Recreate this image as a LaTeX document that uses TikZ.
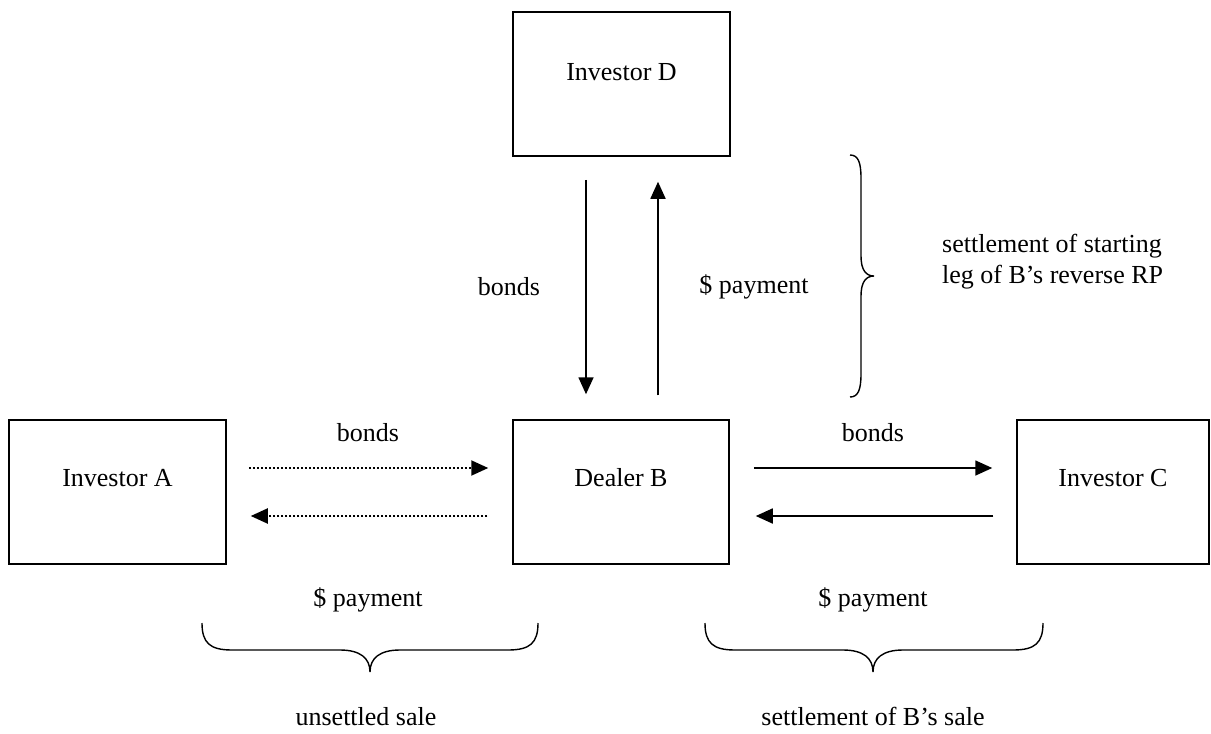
\documentclass[tikz,border=0pt]{standalone}
\usepackage{fontspec}
\setmainfont{Liberation Serif}
\usetikzlibrary{arrows.meta}
\begin{document}
\begin{tikzpicture}[x=1pt,y=-1pt,
  every node/.style={font=\fontsize{26}{31}\selectfont, inner sep=0pt},
  box/.style={draw, line width=1.5pt, minimum height=144pt, inner sep=0pt},
  arr/.style={line width=1.7pt, -{Triangle[length=17pt,width=15pt]}},
  dotarr/.style={arr, line width=2pt, dash pattern=on 2pt off 2pt},
  brace/.style={line width=1.4pt}]
\useasboundingbox (0,0) rectangle (1211,734);
% boxes
\node[box, minimum width=217pt] (A) at (117.5,492) {};
\node[box, minimum width=216pt] (B) at (621,492) {};
\node[box, minimum width=192pt] (C) at (1113,492) {};
\node[box, minimum width=217pt] (D) at (621.5,84) {};
\node (At) at ([yshift=14pt]A.center) {Investor A};
\node (Bt) at ([yshift=14pt]B.center) {Dealer B};
\node (Ct) at ([yshift=14pt]C.center) {Investor C};
\node (Dt) at ([yshift=12pt]D.center) {Investor D};
% horizontal arrows
\draw[dotarr] ([shift={(22pt,24pt)}]A.east) -- ([shift={(-24pt,24pt)}]B.west);
\draw[dotarr] ([shift={(-25pt,-24pt)}]B.west) -- ([shift={(24pt,-24pt)}]A.east);
\draw[arr] ([shift={(24pt,24pt)}]B.east) -- ([shift={(-24pt,24pt)}]C.west);
\draw[arr] ([shift={(-23pt,-24pt)}]C.west) -- ([shift={(26pt,-24pt)}]B.east);
% vertical arrows
\draw[arr] ([shift={(-35.5pt,-23pt)}]D.south) -- ([shift={(-35pt,25pt)}]B.north);
\draw[arr] ([shift={(37pt,24pt)}]B.north) -- ([shift={(36.5pt,-25pt)}]D.south);
% labels
\node (l1) at (368,433) {bonds};
\node (l2) at (368,600) {\$ payment};
\node (l3) at (873,433) {bonds};
\node (l4) at (873,600) {\$ payment};
\node (l5) at (509,287) {bonds};
\node (l6) at (754,287) {\$ payment};
\node[anchor=west, align=left] (l7) at (942,262) {settlement of starting\\leg of B’s reverse RP};
\node[anchor=base] (l8) at (366,725) {unsettled sale};
\node[anchor=base] (l9) at (873,725) {settlement of B’s sale};
% braces
\draw[brace] (202,623) .. controls (202,643) and (210,650) .. (232,650) -- (340,650)
  .. controls (360,650) and (370,658) .. (370,672)
  .. controls (370,658) and (380,650) .. (400,650) -- (508,650)
  .. controls (530,650) and (538,643) .. (538,623);
\draw[brace] (705,623) .. controls (705,643) and (713,650) .. (735,650) -- (843,650)
  .. controls (863,650) and (873,658) .. (873,672)
  .. controls (873,658) and (883,650) .. (903,650) -- (1013,650)
  .. controls (1035,650) and (1043,643) .. (1043,623);
\draw[brace] (850,155) .. controls (858,155) and (861,162) .. (861,178) -- (861,256)
  .. controls (861,270) and (866,276) .. (874,276)
  .. controls (866,276) and (861,282) .. (861,296) -- (861,374)
  .. controls (861,390) and (858,397) .. (850,397);
\end{tikzpicture}
\end{document}
